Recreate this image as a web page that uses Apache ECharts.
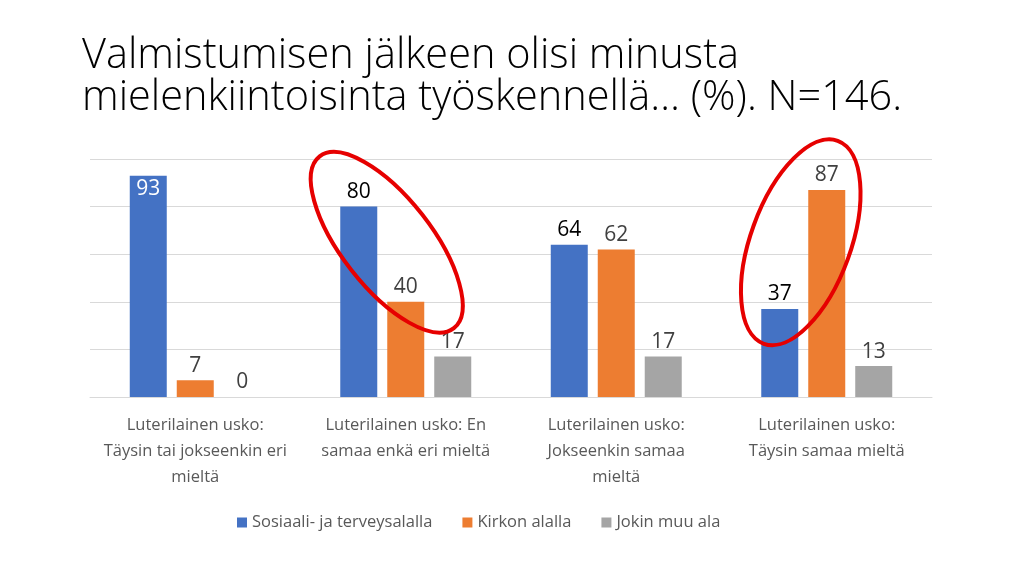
<!DOCTYPE html>
<html>
<head>
<meta charset="utf-8">
<script src="https://cdn.jsdelivr.net/npm/echarts@6/dist/echarts.min.js"></script>
<style>
  html, body { margin: 0; padding: 0; background: #ffffff; }
  #chart { width: 1024px; height: 576px; }
</style>
</head>
<body>
<div id="chart"></div>
<script>
const TITLE = 'Valmistumisen jälkeen olisi minusta\nmielenkiintoisinta työskennellä… (%). N=146.';

const categories = [
  'Luterilainen usko:\nTäysin tai jokseenkin eri\nmieltä',
  'Luterilainen usko: En\nsamaa enkä eri mieltä',
  'Luterilainen usko:\nJokseenkin samaa\nmieltä',
  'Luterilainen usko:\nTäysin samaa mieltä',
];
const sosiaali = [93, 80, 64, 37];
const kirkko = [7, 40, 62, 87];
const muu = [0, 17, 17, 13];
const yTicks = [0, 20, 40, 60, 80, 100];

const FONT = '"Open Sans", Lato, sans-serif';
const INK = { text: '#404040', dark: '#000000', grid: '#d9d9d9', legend: '#595959' };
const COLORS = { blue: '#4472c4', orange: '#ed7d31', gray: '#a5a5a5' };

function barSeries(name, data, color, labelColor) {
  return {
    name,
    type: 'bar',
    data,
    barWidth: 37,
    barGap: '27%',
    itemStyle: { color },
    label: {
      show: true,
      position: 'top',
      distance: 4,
      fontSize: 21,
      fontFamily: FONT,
      color: labelColor,
    },
  };
}

const chart = echarts.init(document.getElementById('chart'), null, { renderer: 'canvas' });

const blue = barSeries('Sosiaali- ja terveysalalla', sosiaali, COLORS.blue, INK.dark);
// first bar carries its label inside, in white
blue.data = sosiaali.map((v, i) => (i === 0
  ? { value: v, label: { position: 'insideTop', color: '#ffffff', distance: 3 } }
  : v));

chart.setOption({
  animation: false,
  textStyle: { fontFamily: FONT },
  title: {
    text: TITLE,
    left: 77,
    top: 30,
    textStyle: { fontFamily: FONT, fontSize: 41.5, fontWeight: 300, color: '#000000', lineHeight: 42 },
  },
  grid: { left: 90, right: 92, top: 159, bottom: 179, containLabel: false },
  legend: {
    bottom: 40,
    left: 232,
    icon: 'rect',
    itemWidth: 10,
    itemHeight: 10,
    itemGap: 30,
    textStyle: { color: INK.legend, fontSize: 16.5, fontFamily: FONT },
  },
  xAxis: {
    type: 'category',
    data: categories,
    axisLine: { lineStyle: { color: INK.grid } },
    axisTick: { show: false },
    axisLabel: { color: INK.legend, fontSize: 16.5, lineHeight: 26, margin: 15, interval: 0, fontFamily: FONT },
  },
  yAxis: {
    type: 'value',
    min: yTicks[0],
    max: yTicks[yTicks.length - 1],
    interval: yTicks[1] - yTicks[0],
    axisLabel: { show: false },
    axisLine: { show: false },
    axisTick: { show: false },
    splitLine: { lineStyle: { color: INK.grid, width: 1 } },
  },
  series: [
    blue,
    barSeries('Kirkon alalla', kirkko, COLORS.orange, INK.text),
    barSeries('Jokin muu ala', muu, COLORS.gray, INK.text),
  ],
});

// red hand-drawn style rings, anchored to the data they highlight
function ring(catIndex, value, dx, rx, ry, deg) {
  const [cx, cy] = chart.convertToPixel({ gridIndex: 0 }, [catIndex, value]);
  return {
    type: 'ellipse',
    x: cx + dx,
    y: cy,
    rotation: deg * Math.PI / 180,
    shape: { cx: 0, cy: 0, rx, ry },
    style: { fill: 'none', stroke: '#e60000', lineWidth: 4 },
    z: 100,
  };
}

chart.setOption({
  graphic: [
    ring(1, 65, -19, 109, 45, -52),
    ring(3, 65, -26, 108, 50, 70),
  ],
});
</script>
</body>
</html>
